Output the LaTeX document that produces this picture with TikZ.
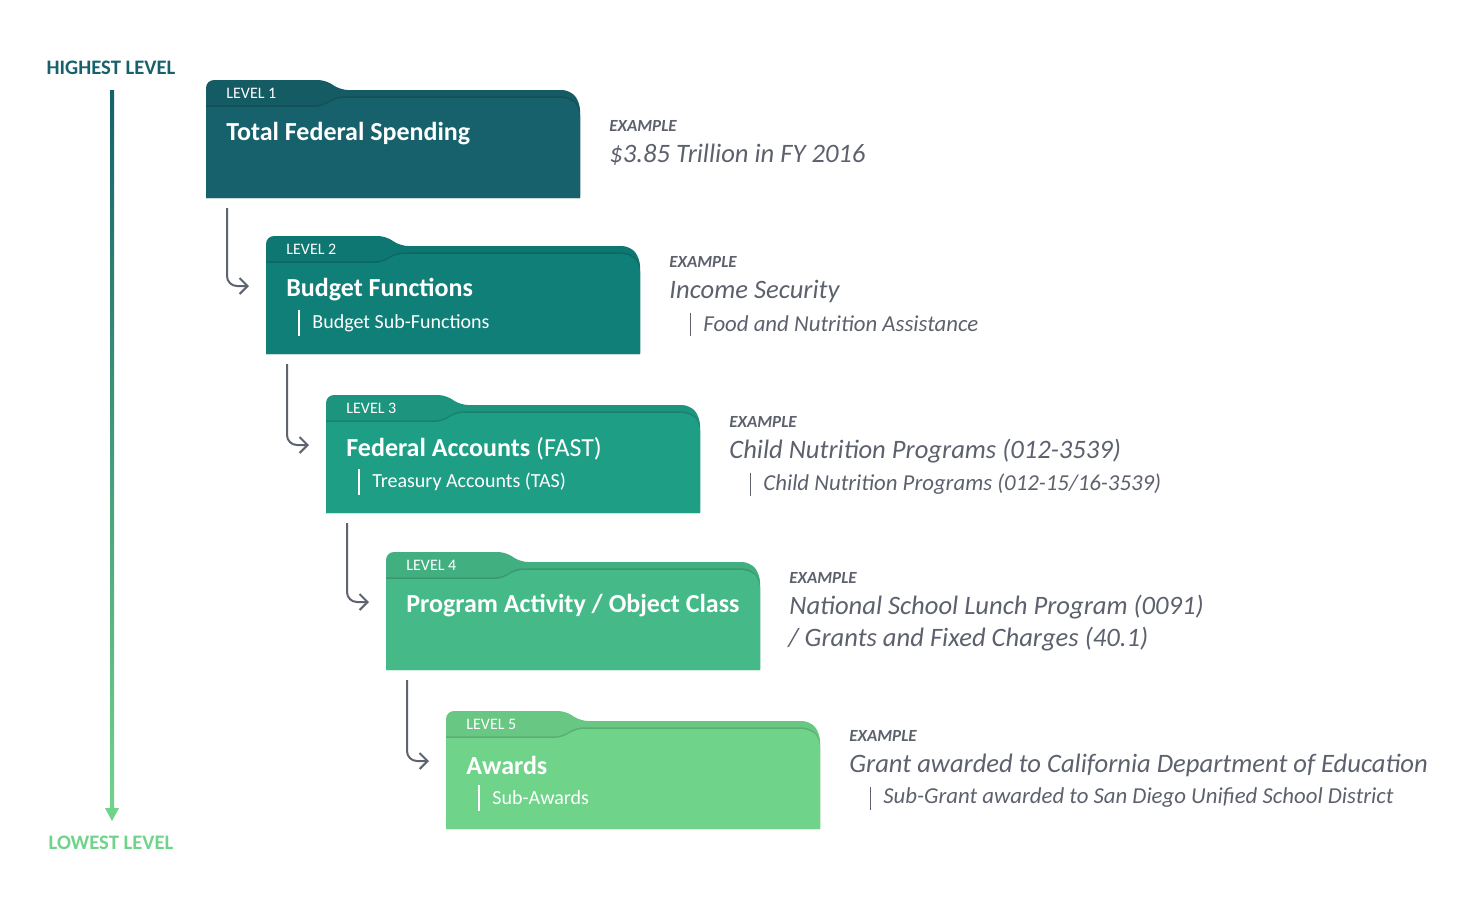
\documentclass[tikz,border=0pt]{standalone}
\usepackage{fontspec}
\setmainfont{Carlito}
\usetikzlibrary{arrows.meta, calc}

\definecolor{lvA}{HTML}{16616B}
\definecolor{lvB}{HTML}{0F7F78}
\definecolor{lvC}{HTML}{1F9E86}
\definecolor{lvD}{HTML}{45BA88}
\definecolor{lvE}{HTML}{6FD48A}
\definecolor{exgray}{HTML}{5C616D}
\definecolor{arrgray}{HTML}{5E6370}

\begin{document}
\begin{tikzpicture}[
	x=0.5pt, y=-0.5pt,
	lvl/.style = {text=white, inner sep=0pt, anchor=west, font=\fontsize{8}{9}\selectfont},
	ttl/.style = {text=white, inner sep=0pt, anchor=west, font=\bfseries\fontsize{13}{15}\selectfont},
	sub/.style = {text=white, inner sep=0pt, anchor=west, font=\fontsize{10}{12}\selectfont},
	exlbl/.style = {text=exgray, inner sep=0pt, anchor=west, font=\bfseries\itshape\fontsize{8.5}{10}\selectfont},
	exmain/.style = {text=exgray, inner sep=0pt, anchor=west, font=\itshape\fontsize{13.3}{15}\selectfont},
	exsub/.style = {text=exgray, inner sep=0pt, anchor=west, font=\itshape\fontsize{11.4}{13}\selectfont},
	side/.style = {inner sep=0pt, font=\bfseries\fontsize{10.3}{12}\selectfont},
	wbar/.style = {white, line width=1pt},
	gbar/.style = {exgray, line width=0.5pt},
	conn/.style = {arrgray, line width=1pt, rounded corners=5pt,
		-{Straight Barb[length=4pt,width=8pt]}},
	pics/folder/.style = {code={
		\fill[#1!94!black] (0,60) [rounded corners=4pt] -- (0,0) -- (120,0) -- (134,10)
			-- (364,10) -- (374,22) -- (374,60) [sharp corners] -- (374,118) -- (0,118) -- cycle;
		\fill[#1!82!black, yshift=0.8pt] (0,27) [rounded corners=4pt] -- (117,27) -- (129,18)
			-- (364,18) -- (374,28) -- (374,60) [sharp corners] -- (374,118) -- (0,118) -- cycle;
		\fill[#1] (0,27) [rounded corners=4pt] -- (117,27) -- (129,18)
			-- (364,18) -- (374,28) -- (374,60) [sharp corners] -- (374,118) -- (0,118) -- cycle;
		\coordinate (-lvl) at (20,13);
		\coordinate (-ttl) at (20,54);
		\coordinate (-sub) at (46,87);
		\coordinate (-out) at (21,128);
		\coordinate (-in) at (-17,50);
	}}
	]
	\useasboundingbox (0,0) rectangle (1478,912);
%
	\foreach \i/\col/\x/\y in {1/lvA/206/80, 2/lvB/266/236, 3/lvC/326/395, 4/lvD/386/552, 5/lvE/446/711}
	{
		\pic (f\i) at (\x,\y) {folder=\col};
		\node[lvl] (l\i) at (f\i-lvl) {LEVEL \i};
	}
%
	\foreach \i [evaluate=\i as \j using int(\i+1)] in {1,...,4}
		\draw[conn] (f\i-out) |- (f\j-in);
%
	\node[ttl] (t1) at (f1-ttl) {Total Federal Spending};
	\node[ttl] (t2) at (f2-ttl) {Budget Functions};
	\node[ttl] (t3) at (f3-ttl) {Federal Accounts\mdseries\ (FAST)};
	\node[ttl] (t4) at (f4-ttl) {Program Activity / Object Class};
	\node[ttl] (t5) at (f5-ttl) {Awards};
%
	\node[sub] (s2) at (f2-sub) {Budget Sub-Functions};
	\node[sub] (s3) at (f3-sub) {Treasury Accounts (TAS)};
	\node[sub] (s5) at (f5-sub) {Sub-Awards};
	\foreach \s in {s2,s3,s5}
		\draw[wbar] ($(\s.west)+(-13,-13)$) -- ++(0,26);
%
	\node[exlbl] (e1) at (609,126) {EXAMPLE};
	\node[exmain] (m1) at (609,155) {\$3.85 Trillion in FY 2016};
%
	\node[exlbl] (e2) at (669,262) {EXAMPLE};
	\node[exmain] (m2) at (669,291) {Income Security};
	\node[exsub] (x2) at (703,324) {Food and Nutrition Assistance};
%
	\node[exlbl] (e3) at (729,422) {EXAMPLE};
	\node[exmain] (m3) at (729,451) {Child Nutrition Programs (012-3539)};
	\node[exsub] (x3) at (763,484) {Child Nutrition Programs (012-15/16-3539)};
%
	\node[exlbl] (e4) at (789,578) {EXAMPLE};
	\node[exmain] (m4) at (789,607) {National School Lunch Program (0091)};
	\node[exmain] (n4) at (788,639) {/ Grants and Fixed Charges (40.1)};
%
	\node[exlbl] (e5) at (849,736) {EXAMPLE};
	\node[exmain] (m5) at (849,765) {Grant awarded to California Department of Education};
	\node[exsub] (x5) at (883,798) {Sub-Grant awarded to San Diego Unified School District};
%
	\foreach \s in {x2,x3,x5}
		\draw[gbar] ($(\s.west)+(-13,-11)$) -- ++(0,23);
%
	\node[side, text=lvA] (hi) at (111,68) {HIGHEST LEVEL};
	\node[side, text=lvE] (lo) at (111,843) {LOWEST LEVEL};
	\coordinate (bt) at (112,90);
	\coordinate (bb) at (112,808);
	\shade[top color=lvA, bottom color=lvE] ([xshift=-1pt]bt) rectangle ([xshift=1pt]bb);
	\fill[lvE] ([xshift=-3.5pt]bb) -- ([xshift=3.5pt]bb) -- ([yshift=-6.5pt]bb) -- cycle;
\end{tikzpicture}
\end{document}
